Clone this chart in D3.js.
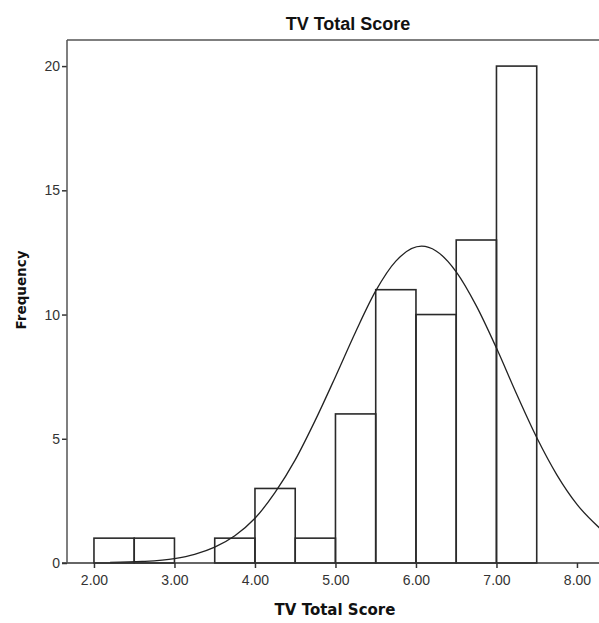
<!DOCTYPE html>
<html>
<head>
<meta charset="utf-8">
<script src="https://cdn.jsdelivr.net/npm/d3@7"></script>
<style>
  body { margin: 0; background: #fff; }
  svg { display: block; }
</style>
</head>
<body>
<div id="chart"></div>
<script>
// histogram bins (lower edge, upper edge) and counts
const binStarts = [2.0, 2.5, 3.0, 3.5, 4.0, 4.5, 5.0, 5.5, 6.0, 6.5, 7.0]
const binWidth = 0.5
const counts = [1, 1, 0, 1, 3, 1, 6, 11, 10, 13, 20]

// fitted normal curve
const curveX = [2.2, 2.6, 3.0, 3.25, 3.5, 3.75, 4.0, 4.25, 4.5, 4.75, 5.0, 5.25, 5.5, 5.75, 6.07, 6.25, 6.5, 6.75, 7.0, 7.25, 7.5, 7.75, 8.0, 8.3]
const curveY = [0.02, 0.06, 0.18, 0.35, 0.64, 1.1, 1.8, 2.84, 4.15, 5.75, 7.5, 9.3, 10.95, 12.15, 12.75, 12.56, 11.72, 10.35, 8.65, 6.8, 5.05, 3.55, 2.36, 1.35]

const xTicks = [2, 3, 4, 5, 6, 7, 8]
const yTicks = [0, 5, 10, 15, 20]

const W = 599, H = 623
const MARGIN = { TOP: 40, LEFT: 67, BOTTOM: 60 }
const plotBottom = H - MARGIN.BOTTOM

const svg = d3.select('#chart')
	.append('svg')
		.attr('width', W)
		.attr('height', H)

const x = d3.scaleLinear()
	.domain([1.665, 8.4])
	.range([MARGIN.LEFT, MARGIN.LEFT + 6.735 * 80.5])

const y = d3.scaleLinear()
	.domain([0, 21.05])
	.range([plotBottom, MARGIN.TOP])

// frame: top border
svg.append('line')
	.attr('x1', MARGIN.LEFT).attr('x2', W)
	.attr('y1', MARGIN.TOP).attr('y2', MARGIN.TOP)
	.attr('stroke', '#555').attr('stroke-width', 1.5)

// bars
svg.append('g')
	.selectAll('rect')
	.data(binStarts.map((s, i) => ({ s, n: counts[i] })).filter(d => d.n > 0))
	.join('rect')
		.attr('x', d => x(d.s))
		.attr('y', d => y(d.n))
		.attr('width', d => x(d.s + binWidth) - x(d.s))
		.attr('height', d => y(0) - y(d.n))
		.attr('fill', 'none')
		.attr('stroke', '#2a2a2a')
		.attr('stroke-width', 1.6)

// normal curve
const line = d3.line()
	.x(d => x(d[0]))
	.y(d => y(d[1]))
	.curve(d3.curveMonotoneX)

svg.append('path')
	.datum(curveX.map((v, i) => [v, curveY[i]]))
	.attr('d', line)
	.attr('fill', 'none')
	.attr('stroke', '#222')
	.attr('stroke-width', 1.3)

// axes
const xAxis = svg.append('g')
	.attr('transform', `translate(0, ${plotBottom})`)
	.call(d3.axisBottom(x).tickValues(xTicks).tickFormat(d3.format('.2f')).tickSize(5).tickSizeOuter(0))
xAxis.select('.domain').remove()
xAxis.append('line')
	.attr('x1', MARGIN.LEFT - 5).attr('x2', W)
	.attr('stroke', '#333').attr('stroke-width', 1.5)

const yAxis = svg.append('g')
	.attr('transform', `translate(${MARGIN.LEFT}, 0)`)
	.call(d3.axisLeft(y).tickValues(yTicks).tickSize(5).tickSizeOuter(0))
yAxis.select('.domain').remove()
yAxis.append('line')
	.attr('y1', MARGIN.TOP).attr('y2', plotBottom)
	.attr('stroke', '#555').attr('stroke-width', 1.5)

svg.selectAll('.tick line').attr('stroke', '#333').attr('stroke-width', 1.5)
svg.selectAll('.tick text')
	.attr('font-family', 'Liberation Sans, Arial, sans-serif')
	.attr('font-size', 14)
	.attr('fill', '#333')
xAxis.selectAll('.tick text').attr('dy', '1.0em')
yAxis.selectAll('.tick text').attr('x', -7)

// titles
svg.append('text')
	.attr('x', 348)
	.attr('y', 30)
	.attr('text-anchor', 'middle')
	.attr('font-family', 'Liberation Sans, Arial, sans-serif')
	.attr('font-weight', 'bold')
	.attr('font-size', 18)
	.attr('fill', '#111')
	.text('TV Total Score')

svg.append('text')
	.attr('x', 335)
	.attr('y', 615)
	.attr('text-anchor', 'middle')
	.attr('font-family', 'DejaVu Sans, Verdana, sans-serif')
	.attr('font-weight', 'bold')
	.attr('font-size', 15)
	.attr('fill', '#111')
	.text('TV Total Score')

svg.append('text')
	.attr('x', -290)
	.attr('y', 26)
	.attr('transform', 'rotate(-90)')
	.attr('text-anchor', 'middle')
	.attr('font-family', 'DejaVu Sans, Verdana, sans-serif')
	.attr('font-weight', 'bold')
	.attr('font-size', 13.5)
	.attr('fill', '#111')
	.text('Frequency')
</script>
</body>
</html>
